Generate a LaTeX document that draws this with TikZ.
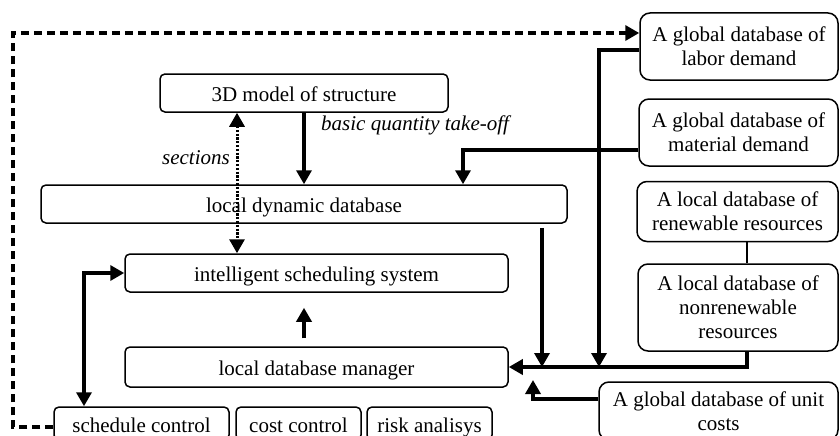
\documentclass[tikz,border=0pt]{standalone}
\usepackage{fontspec}
\setmainfont{Liberation Serif}
\usetikzlibrary{arrows.meta}
\begin{document}
\begin{tikzpicture}[x=1pt,y=-1pt,
  every node/.style={font=\fontsize{21}{24}\selectfont},
  box/.style={draw, line width=1.5pt, rounded corners=5pt, inner sep=0pt, text height=17pt, text depth=0pt},
  rbox/.style={draw, line width=1.5pt, rounded corners=10pt, inner sep=0pt, align=center, text depth=0pt},
  arr/.style={line width=3.4pt, -{Triangle[width=15pt,length=14pt]}},
  dblarr/.style={line width=3.4pt, {Triangle[width=15pt,length=14pt]}-{Triangle[width=15pt,length=14pt]}},
  dotline/.style={line width=3pt, dash pattern=on 2.2pt off 1.6pt, {Triangle[width=15pt,length=14pt]}-{Triangle[width=15pt,length=14pt]}},
  dasharr/.style={line width=3.4pt, dash pattern=on 8pt off 5pt, -{Triangle[width=15pt,length=14pt]}},
  thinline/.style={line width=1.6pt},
  lbl/.style={font=\fontsize{21}{24}\selectfont\itshape, inner sep=0pt}
]
\useasboundingbox (0,0) rectangle (840,436);

% left boxes
\node[box, minimum width=288pt, minimum height=38pt] (m3d) at (304,93) {3D model of structure};
\node[box, minimum width=526pt, minimum height=38pt] (ldd) at (304,204) {local dynamic database};
\node[box, minimum width=383pt, minimum height=38pt] (iss) at (316.5,273) {intelligent scheduling system};
\node[box, minimum width=383pt, minimum height=40pt] (ldm) at (316.5,367) {local database manager};
\node[box, minimum width=175pt, minimum height=33pt] (sch) at (141.5,423.5) {schedule control};
\node[box, minimum width=125pt, minimum height=33pt] (cost) at (298.5,423.5) {cost control};
\node[box, minimum width=125pt, minimum height=33pt] (risk) at (429.5,423.5) {risk analisys};

% right boxes
\node[rbox, minimum width=198pt, minimum height=67pt] (lab) at (739,46.5) {A global database of\\labor demand};
\node[rbox, minimum width=199pt, minimum height=67pt] (mat) at (738.5,132.5) {A global database of\\material demand};
\node[rbox, minimum width=201pt, minimum height=60pt] (ren) at (737.5,211.5) {A local database of\\renewable resources};
\node[rbox, minimum width=200pt, minimum height=87pt] (non) at (738,307.5) {A local database of\\nonrenewable\\resources};
\node[rbox, minimum width=239pt, minimum height=58pt] (unit) at (718.5,411) {A global database of unit\\costs};

% labels
\node[lbl, anchor=base west] (lq) at (321,130) {basic quantity take-off};
\node[lbl, anchor=base east] (ls) at (230,164) {sections};

% helper coordinates
\coordinate (xA) at (542,0);
\coordinate (xB) at (599,0);
\coordinate (xS) at (237,0);
\coordinate (xM) at (463,0);
\coordinate (xU) at (533,380);
\coordinate (xC) at (84,0);
\coordinate (dc) at (13,33);

% connectors
\draw[arr] (m3d.south) -- (ldd.north);
\draw[dotline] (xS |- m3d.south) -- (xS |- iss.north);
\draw[arr] ([yshift=-17.5pt]mat.west) -| (xM |- ldd.north);
\draw[arr] ([yshift=-3.5pt]lab.west) -| (xB |- ldm.east);
\draw[arr, shorten <=4pt] (ldd.south -| xA) -- (xA |- ldm.east);
\draw[arr] ([xshift=9pt]non.south) |- (ldm.east);
\draw[thinline] ([xshift=9.5pt]ren.south) -- ([xshift=9pt]non.north);
\draw[arr] ([yshift=12pt]unit.west) -| (xU);
\draw[arr, shorten <=8pt, shorten >=15pt] (ldm.north -| m3d.south) -- (iss.south -| m3d.south);
\draw[dblarr] (iss.west) -| (xC |- sch.north);
\draw[dasharr] ([yshift=-3.5pt]sch.west) -| (dc) -- ([yshift=13.5pt]lab.west);
\end{tikzpicture}
\end{document}
